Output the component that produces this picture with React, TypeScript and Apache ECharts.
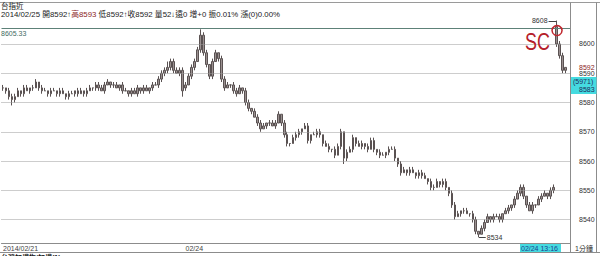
import React, { useEffect, useRef } from "react";
import * as echarts from "echarts";

// ---- data (1-minute bars of 台指近) ----
const sessionLabels = ["2014/02/21", "02/24", "02/25"];
const sessionOpens = [8585, 8585, 8606];

const day1Close = [
  8585, 8584, 8582, 8581, 8582, 8584, 8583, 8585, 8584, 8585,
  8585, 8587, 8585, 8584, 8584, 8583, 8584, 8584, 8583, 8584,
  8583, 8582, 8583, 8583, 8584, 8583, 8584, 8583, 8584, 8585,
  8585, 8586, 8585, 8584, 8586, 8587, 8586, 8586, 8585, 8586,
  8584, 8584, 8583, 8584, 8583, 8585, 8584, 8585, 8584, 8585,
  8586, 8586, 8588, 8590, 8591, 8592, 8594, 8591, 8590, 8591,
  8584,
];
const day1Up = [
  1, 0, 1, 1, 1, 1, 0, 1, 1, 0,
  1, 1, 0, 1, 1, 0, 1, 1, 0, 1,
  1, 0, 1, 1, 0, 1, 1, 0, 1, 1,
  0, 1, 1, 1, 1, 1, 0, 1, 1, 0,
  1, 1, 0, 1, 1, 1, 0, 1, 1, 0,
  1, 1, 1, 1, 1, 2, 1, 1, 1, 1,
  1,
];
const day1Down = [
  1, 1, 1, 2, 1, 0, 1, 1, 0, 1,
  1, 0, 1, 1, 0, 1, 1, 0, 1, 1,
  0, 1, 1, 0, 1, 1, 0, 1, 1, 0,
  1, 1, 1, 0, 1, 0, 1, 1, 0, 1,
  1, 0, 1, 1, 0, 1, 1, 1, 0, 1,
  1, 0, 1, 1, 1, 1, 1, 1, 0, 1,
  2,
];

const day2Close = [
  8586, 8589, 8592, 8594, 8598, 8603, 8597, 8593, 8589, 8594,
  8597, 8595, 8588, 8585, 8586, 8586, 8584, 8583, 8585, 8584,
  8580, 8578, 8577, 8575, 8573, 8571, 8572, 8573, 8573, 8572,
  8573, 8576, 8573, 8569, 8566, 8566, 8568, 8569, 8570, 8571,
  8572, 8567, 8569, 8569, 8570, 8569, 8566, 8565, 8564, 8564,
  8562, 8565, 8570, 8561, 8563, 8564, 8568, 8566, 8565, 8566,
  8565, 8564, 8567, 8564, 8563, 8562, 8562, 8563, 8564, 8564,
  8561, 8559, 8556, 8557, 8556, 8557, 8556, 8555, 8556, 8555,
  8554, 8553, 8551, 8551, 8553, 8552, 8553, 8551, 8549, 8545,
  8541, 8542, 8543, 8543, 8542, 8542, 8540, 8536, 8535, 8537,
  8539, 8541, 8540, 8541, 8541, 8540, 8542, 8543, 8544, 8545,
  8547, 8549, 8551, 8548, 8545, 8543, 8545, 8545, 8547, 8548,
  8549, 8548, 8550, 8551,
];
const day2Up = [
  1, 1, 1, 1, 1, 2, 1, 1, 0, 1,
  1, 0, 1, 1, 1, 0, 1, 1, 1, 0,
  1, 1, 0, 1, 1, 1, 1, 0, 1, 1,
  1, 1, 0, 1, 1, 0, 1, 1, 1, 0,
  1, 1, 0, 1, 1, 1, 0, 1, 1, 0,
  1, 1, 1, 0, 1, 1, 1, 0, 1, 1,
  0, 1, 1, 1, 0, 1, 1, 0, 1, 1,
  1, 0, 1, 1, 0, 1, 1, 0, 1, 1,
  1, 0, 1, 1, 1, 0, 1, 1, 0, 1,
  1, 1, 0, 1, 1, 0, 1, 1, 0, 1,
  1, 1, 0, 1, 1, 1, 0, 1, 1, 0,
  1, 1, 1, 1, 0, 1, 1, 0, 1, 1,
  1, 0, 1, 1,
];
const day2Down = [
  1, 0, 1, 1, 0, 1, 1, 1, 1, 1,
  0, 1, 1, 1, 0, 1, 1, 1, 0, 1,
  1, 1, 1, 0, 1, 1, 0, 1, 1, 0,
  1, 0, 1, 1, 1, 1, 0, 1, 1, 1,
  0, 1, 1, 0, 1, 1, 1, 0, 1, 1,
  1, 0, 1, 2, 1, 0, 1, 1, 0, 1,
  1, 1, 0, 1, 1, 1, 0, 1, 1, 0,
  1, 1, 1, 0, 1, 1, 0, 1, 1, 1,
  0, 1, 1, 1, 0, 1, 1, 1, 1, 1,
  1, 0, 1, 1, 0, 1, 1, 1, 1, 0,
  1, 0, 1, 1, 0, 1, 1, 0, 1, 1,
  1, 0, 1, 1, 1, 0, 1, 1, 0, 1,
  0, 1, 1, 1,
];

const day3Close = [8600, 8596, 8591, 8592];
const day3Up = [2, 1, 1, 0];
const day3Down = [1, 1, 1, 1];

const gridValues = [8540, 8550, 8560, 8570, 8580, 8590, 8600];
const refLevel = 8605.33;
const yMin = 8532;
const yMax = 8614;

const headerTitle = "台指近";
const headerDate = "2014/02/25";
const quoteOpen = 8592;
const quoteHigh = 8593;
const quoteLow = 8592;
const quoteClose = 8592;
const quoteVolume = 52;
const cursorTime = "02/24 13:16";
const boxTop = "(5971)";
const boxBottom = "8583";

const FONT = "'Liberation Sans', 'Noto Sans CJK TC', sans-serif";

export default function App() {
  const ref = useRef<HTMLDivElement>(null);

  useEffect(() => {
    const chart = echarts.init(ref.current!, null, { renderer: "svg", width: 600, height: 256 });

    const bars: number[][] = [];
    const sessionStart: number[] = [];
    const sessions = [
      [day1Close, day1Up, day1Down],
      [day2Close, day2Up, day2Down],
      [day3Close, day3Up, day3Down],
    ];
    sessions.forEach(([c, u, d], s) => {
      sessionStart.push(bars.length);
      let prev = sessionOpens[s];
      c.forEach((close, k) => {
        const open = prev;
        bars.push([open, close, Math.min(open, close) - d[k], Math.max(open, close) + u[k]]);
        prev = close;
      });
    });
    const categories = bars.map((_, i) => String(i)).concat([""]);
    const labelAt = new Map<number, string>();
    labelAt.set(sessionStart[0], sessionLabels[0]);
    labelAt.set(sessionStart[1], sessionLabels[1]);

    chart.setOption({
      animation: false,
      backgroundColor: "#ffffff",
      textStyle: { fontFamily: FONT },
      grid: { left: 0, right: 30, top: 3, bottom: 13 },
      xAxis: {
        type: "category",
        data: categories,
        boundaryGap: true,
        axisLine: { lineStyle: { color: "#8c8c8c", width: 1 } },
        axisTick: { show: false },
        splitLine: { show: false },
        axisLabel: {
          interval: (i: number) => labelAt.has(i),
          formatter: (_v: string, i: number) => labelAt.get(i) || "",
          align: "left",
          fontSize: 7,
          margin: 2,
          color: "#444",
          fontFamily: FONT,
        },
      },
      yAxis: {
        type: "value",
        position: "right",
        min: yMin,
        max: yMax,
        splitLine: { show: false },
        axisLine: { show: false },
        axisTick: { show: false },
        axisLabel: {
          customValues: gridValues,
          formatter: (v: number) => String(v),
          fontSize: 7,
          margin: 9,
          color: "#333",
          fontFamily: FONT,
        },
      },
      series: [
        {
          type: "candlestick",
          data: bars,
          barWidth: 2,
          itemStyle: {
            color: "#9a9090",
            color0: "#9a9090",
            borderColor: "#5a5252",
            borderColor0: "#5a5252",
            borderWidth: 1,
          },
          markLine: {
            silent: true,
            symbol: "none",
            label: { show: false },
            data: [
              ...gridValues.map((v) => ({
                yAxis: v,
                lineStyle: { type: "dotted", color: "#9a9a9a", width: 1 },
              })),
              { yAxis: refLevel, lineStyle: { type: "solid", color: "#5d8178", width: 1 } },
            ],
          },
        },
      ],
    });

    const px = (i: number, v: number) =>
      chart.convertToPixel({ seriesIndex: 0 }, [i, v]) as number[];

    // session-3 high
    const s3 = sessionStart[2];
    let hiIdx = s3;
    for (let i = s3; i < bars.length; i++) if (bars[i][3] > bars[hiIdx][3]) hiIdx = i;
    const hiVal = bars[hiIdx][3];
    const hiP = px(hiIdx, hiVal);
    // overall low
    let loIdx = 0;
    for (let i = 0; i < bars.length; i++) if (bars[i][2] < bars[loIdx][2]) loIdx = i;
    const loVal = bars[loIdx][2];
    const loP = px(loIdx, loVal);
    const refY = px(0, refLevel)[1];
    const lastClose = bars[bars.length - 1][1];
    const lastY = px(0, lastClose)[1];

    const t = (x: number, y: number, text: string, extra: any = {}, z = 100) => ({
      type: "text",
      x,
      y,
      z,
      style: { text, fontSize: 7, fontFamily: FONT, fill: "#222", align: "left", verticalAlign: "top", ...extra },
    });
    const ln = (x1: number, y1: number, x2: number, y2: number, stroke: string, z = 90) => ({
      type: "line",
      z,
      shape: { x1, y1, x2, y2 },
      style: { stroke, lineWidth: 1 },
    });

    const quote = `{d|${headerDate} 開${quoteOpen}↑}{r|高${quoteHigh}}{d| 低${quoteLow}↑收${quoteClose} 量${quoteVolume}↓遠0 增+0 振0.01% 漲(0)0.00%}`;

    chart.setOption({
      graphic: [
        ln(0, 2.5, 600, 2.5, "#9a9a9a"),
        ln(570.5, 2.5, 570.5, 252.5, "#8c8c8c"),
        ln(596.5, 2.5, 596.5, 252.5, "#8c8c8c"),
        ln(0, 252.5, 600, 252.5, "#8c8c8c"),
        t(1, 3, headerTitle, { fontSize: 7.5 }),
        {
          type: "text",
          x: 1,
          y: 11,
          z: 100,
          style: {
            text: quote,
            fontFamily: FONT,
            align: "left",
            verticalAlign: "top",
            rich: {
              d: { fontSize: 7.8, fill: "#222", fontFamily: FONT },
              r: { fontSize: 7.8, fill: "#8b1e1e", fontFamily: FONT },
            },
          },
        },
        t(1, refY + 1.5, refLevel.toFixed(2), { fill: "#3f6b62" }),
        // session high annotation
        t(hiP[0] - 9, hiP[1], String(hiVal), { align: "right", verticalAlign: "middle", fill: "#333" }),
        ln(hiP[0] - 8, Math.round(hiP[1]) + 0.5, hiP[0], Math.round(hiP[1]) + 0.5, "#444"),
        // overall low annotation
        ln(loP[0], Math.round(loP[1]) + 0.5, loP[0] + 7, Math.round(loP[1]) + 0.5, "#444"),
        t(loP[0] + 8, loP[1], String(loVal), { verticalAlign: "middle", fill: "#333" }),
        // hand-drawn SC mark
        {
          type: "circle",
          z: 110,
          shape: { cx: hiP[0] + 0.5, cy: hiP[1] + 10, r: 5 },
          style: { fill: "none", stroke: "#c0262d", lineWidth: 1.5 },
        },
        {
          type: "text",
          x: 525,
          y: 30,
          z: 110,
          scaleX: 0.78,
          style: {
            text: "SC",
            fontSize: 23,
            fontFamily: "'Liberation Sans', sans-serif",
            fill: "#b5202a",
            align: "left",
            verticalAlign: "top",
          },
        },
        // right side price marks
        t(579, lastY, String(lastClose), { verticalAlign: "middle", fill: "#8b1e1e" }, 120),
        {
          type: "rect",
          z: 115,
          shape: { x: 571, y: 77, width: 25.5, height: 17 },
          style: { fill: "#45dbe0", stroke: "none" },
        },
        t(573, 78, boxTop, { fill: "#1d2f60" }, 120),
        t(579, 86, boxBottom, { fill: "#1d2f60" }, 120),
        // bottom bar
        {
          type: "rect",
          z: 115,
          shape: { x: 520, y: 244, width: 41, height: 8 },
          style: { fill: "#45dbe0", stroke: "none" },
        },
        t(521, 244.5, cursorTime, { fill: "#1d3d8f" }, 120),
        t(575, 244.5, "1分鐘", { fill: "#333" }, 120),
        t(1, 253.5, "台灣加權指/加權(1)", { fill: "#111", fontWeight: "bold" }, 120),
      ],
    });

    return () => chart.dispose();
  }, []);

  return (
    <div
      ref={ref}
      style={{ position: "absolute", left: 0, top: 0, width: 600, height: 256, background: "#fff" }}
    />
  );
}
